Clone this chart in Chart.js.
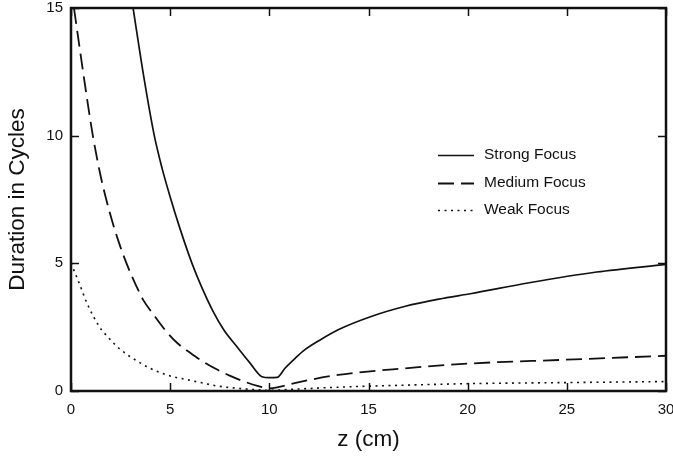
<!DOCTYPE html>
<html>
<head>
<meta charset="utf-8">
<script src="https://cdn.jsdelivr.net/npm/chart.js@4/dist/chart.umd.min.js"></script>
<style>
  html, body { margin: 0; padding: 0; background: #fff; }
  canvas { display: block; }
</style>
</head>
<body>
<canvas id="chart" width="673" height="461"></canvas>
<script>
// values
const strongZ   = [3.13, 3.65, 4.2, 4.6, 5.0, 5.5, 6.1, 6.6, 7.17, 7.7, 8.36, 9.0, 9.63, 10.0, 10.39, 10.8, 11.3, 11.78, 12.6, 13.47, 15.17, 16.86, 18.55, 20.2, 23.1, 26.5, 30];
const strongVal = [15, 12.4, 10.0, 8.7, 7.6, 6.35, 5.0, 4.05, 3.11, 2.4, 1.74, 1.12, 0.56, 0.52, 0.53, 0.9, 1.28, 1.61, 2.02, 2.4, 2.93, 3.32, 3.6, 3.82, 4.24, 4.66, 4.96];

const mediumZ   = [0.15, 0.6, 1.08, 1.5, 1.95, 2.4, 2.85, 3.3, 3.63, 4.2, 4.84, 5.4, 6.04, 6.7, 7.39, 8.0, 8.7, 9.4, 10.0, 10.5, 11.5, 13.47, 16.86, 20.2, 24.8, 30];
const mediumVal = [15, 12.55, 10.1, 8.4, 7.0, 5.85, 4.9, 4.1, 3.58, 2.95, 2.3, 1.85, 1.48, 1.13, 0.83, 0.6, 0.38, 0.2, 0.1, 0.16, 0.35, 0.63, 0.89, 1.08, 1.22, 1.38];

const weakZ   = [0, 0.4, 0.8, 1.42, 1.68, 2.5, 3.45, 3.96, 5.13, 5.5, 6.84, 7.34, 8.5, 10.0, 11.5, 13.5, 16.9, 20.2, 25, 30];
const weakVal = [5.0, 4.25, 3.45, 2.53, 2.27, 1.62, 1.12, 0.9, 0.56, 0.5, 0.28, 0.2, 0.1, 0.03, 0.08, 0.15, 0.23, 0.29, 0.33, 0.37];

const seriesNames = ["Strong Focus", "Medium Focus", "Weak Focus"];
const xTicks = [0, 5, 10, 15, 20, 25, 30];
const yTicks = [0, 5, 10, 15];

const ink = "#111";
const font = "'Liberation Sans', Arial, Helvetica, sans-serif";

function pairs(xs, ys) {
  return xs.map((x, i) => ({ x: x, y: ys[i] }));
}

// frame, inward ticks on all four sides, and the legend inside the plot
const framePlugin = {
  id: "frame",
  afterDatasetsDraw(chart) {
    const { ctx, chartArea: a, scales } = chart;
    const len = 8;
    ctx.save();
    ctx.strokeStyle = ink;
    ctx.lineWidth = 1.5;
    ctx.beginPath();
    xTicks.forEach(v => {
      const px = Math.round(scales.x.getPixelForValue(v)) + 0.5;
      ctx.moveTo(px, a.bottom); ctx.lineTo(px, a.bottom - len);
      ctx.moveTo(px, a.top); ctx.lineTo(px, a.top + len);
    });
    yTicks.forEach(v => {
      const py = Math.round(scales.y.getPixelForValue(v)) + 0.5;
      ctx.moveTo(a.left, py); ctx.lineTo(a.left + len, py);
      ctx.moveTo(a.right, py); ctx.lineTo(a.right - len, py);
    });
    ctx.stroke();
    ctx.lineWidth = 2.5;
    ctx.strokeRect(a.left, a.top, a.right - a.left, a.bottom - a.top);

    // legend
    const rows = [155, 183, 210];
    chart.data.datasets.forEach((ds, i) => {
      ctx.beginPath();
      ctx.lineWidth = ds.borderWidth;
      ctx.setLineDash(ds.borderDash || []);
      ctx.moveTo(438, rows[i] + 0.5);
      ctx.lineTo(474, rows[i] + 0.5);
      ctx.stroke();
      ctx.setLineDash([]);
      ctx.fillStyle = ink;
      ctx.font = "15.5px " + font;
      ctx.textBaseline = "middle";
      ctx.textAlign = "left";
      ctx.fillText(ds.label, 484, rows[i]);
    });
    ctx.restore();
  }
};

new Chart(document.getElementById("chart"), {
  type: "scatter",
  data: {
    datasets: [
      {
        label: seriesNames[0],
        data: pairs(strongZ, strongVal),
        showLine: true, borderColor: ink, borderWidth: 1.7,
        pointRadius: 0, cubicInterpolationMode: "monotone"
      },
      {
        label: seriesNames[1],
        data: pairs(mediumZ, mediumVal),
        showLine: true, borderColor: ink, borderWidth: 1.8, borderDash: [16, 7],
        pointRadius: 0, cubicInterpolationMode: "monotone"
      },
      {
        label: seriesNames[2],
        data: pairs(weakZ, weakVal),
        showLine: true, borderColor: ink, borderWidth: 1.6, borderDash: [2, 4.5],
        pointRadius: 0, cubicInterpolationMode: "monotone"
      }
    ]
  },
  options: {
    responsive: false,
    animation: false,
    layout: { padding: 0 },
    plugins: { legend: { display: false }, tooltip: { enabled: false } },
    scales: {
      x: {
        type: "linear", min: 0, max: 30,
        afterBuildTicks: s => { s.ticks = xTicks.map(v => ({ value: v })); },
        afterFit: s => { s.height = 70; s.paddingLeft = 0; s.paddingRight = 7; },
        grid: { display: false, drawTicks: false },
        border: { display: false },
        ticks: { color: ink, padding: 10, font: { family: font, size: 15 } },
        title: {
          display: true, text: "z (cm)", color: ink,
          font: { family: font, size: 22.5 }, padding: { top: 0, bottom: 7.5 }
        }
      },
      y: {
        type: "linear", min: 0, max: 15,
        afterBuildTicks: s => { s.ticks = yTicks.map(v => ({ value: v })); },
        afterFit: s => { s.width = 71; s.paddingTop = 8; s.paddingBottom = 0; },
        grid: { display: false, drawTicks: false },
        border: { display: false },
        ticks: { color: ink, padding: 8, font: { family: font, size: 15 } },
        title: {
          display: true, text: "Duration in Cycles", color: ink,
          font: { family: font, size: 22.5 }, padding: { top: 4.5, bottom: 0 }
        }
      }
    }
  },
  plugins: [framePlugin]
});
</script>
</body>
</html>
